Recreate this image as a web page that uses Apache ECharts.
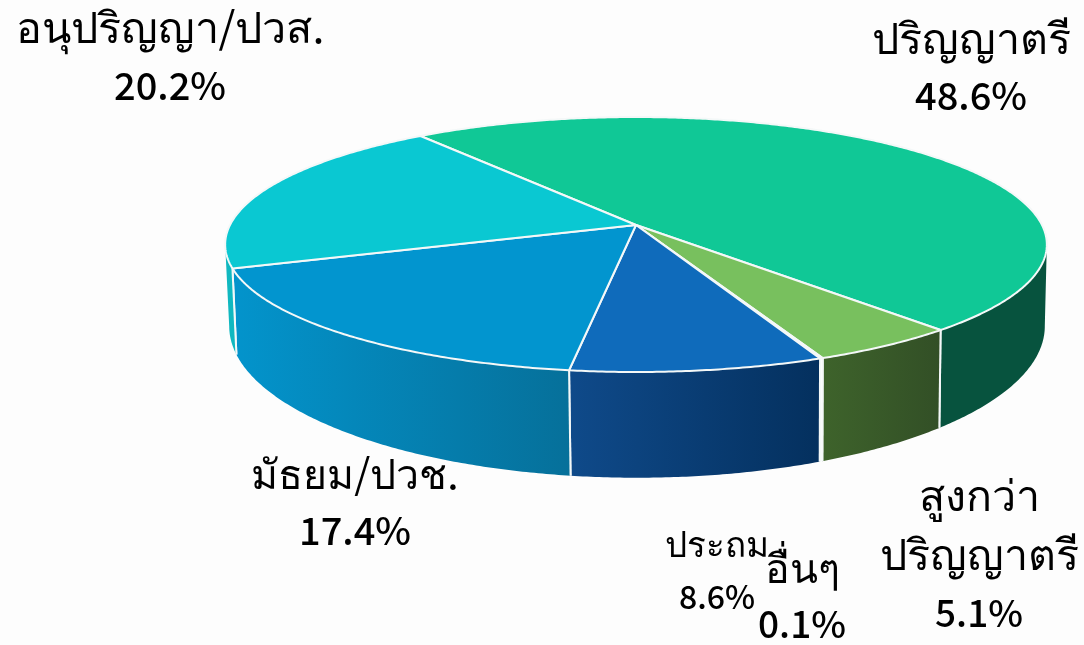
<!DOCTYPE html>
<html>
<head>
<meta charset="utf-8">
<script src="https://cdn.jsdelivr.net/npm/echarts@6/dist/echarts.min.js"></script>
<style>html,body{margin:0;padding:0;background:#fdfdfd}#c{width:1084px;height:645px}</style>
</head>
<body>
<div id="c"></div>
<script>
const categories = ['ปริญญาตรี', 'สูงกว่า\nปริญญาตรี', 'อื่นๆ', 'ประถม', 'มัธยม/ปวช.', 'อนุปริญญา/ปวส.'];
const values = [48.6, 5.1, 0.1, 8.6, 17.4, 20.2];
const topColors = ['#10c896', '#78c05e', '#ffffff', '#0f6bbb', '#0295cf', '#0ac8d2'];
const wallFrom = ['#07533e', '#3e632b', '#ffffff', '#0f4a8a', '#0394cc', '#10b8c0'];
const wallTo = ['#07533e', '#324f26', '#ffffff', '#04305e', '#06709a', '#10b8c0'];
const labelX = [971, 979, 802, 717, 355, 170];
const labelY = [67, 584, 595, 568, 502, 57];
const nameSize = [43, 43, 41, 35, 41, 43];
const pctSize = [38, 37, 37, 32, 38, 38];
const lineGap = [58, 59, 57, 53, 58, 59];

const startDeg = -36.6;
const K = 0.153;
const topDisc = { cx: 636, cy: 225, rx: 406, ry: 124.5 };
const baseDisc = { cx: 637, cy: 303, rx: 403, ry: 148 };
const font = '"Noto Sans CJK SC","Noto Sans",Inter,sans-serif';

function project(d, deg) {
  const t = deg * Math.PI / 180, u = Math.sin(t), v = -Math.cos(t), w = 1 - K * v;
  return [d.cx + d.rx * u / w, d.cy + d.ry * v / w];
}
function arc(d, a, b) {
  const pts = [], n = Math.max(2, Math.ceil(Math.abs(b - a) * 2));
  for (let i = 0; i <= n; i++) pts.push(project(d, a + (b - a) * i / n));
  return pts;
}
const total = values.reduce((s, x) => s + x, 0);
const edgeR = 98.8, edgeL = 261.2;

function renderItem(params, api) {
  const i = params.dataIndex;
  let before = 0;
  for (let j = 0; j < i; j++) before += values[j];
  const a = startDeg + before / total * 360;
  const b = a + api.value(0) / total * 360;
  const children = [];
  const va = Math.max(a, edgeR), vb = Math.min(b, edgeL);
  if (vb > va) {
    const upper = arc(topDisc, va, vb), lower = arc(baseDisc, va, vb);
    const xs = upper.concat(lower).map(p => p[0]);
    const x0 = Math.min.apply(null, xs), x1 = Math.max.apply(null, xs);
    children.push({
      type: 'polygon',
      shape: { points: upper.concat(lower.reverse()) },
      style: {
        fill: {
          type: 'linear', x: x0, y: 0, x2: x1, y2: 0, global: true,
          colorStops: [{ offset: 0, color: wallFrom[i] }, { offset: 1, color: wallTo[i] }]
        }
      }
    });
    [a, b].forEach(g => {
      if (g >= edgeR && g <= edgeL) {
        const p = project(topDisc, g), q = project(baseDisc, g);
        children.push({
          type: 'line',
          shape: { x1: p[0], y1: p[1], x2: q[0], y2: q[1] },
          style: { stroke: '#f4f8f8', lineWidth: 2 }
        });
      }
    });
  }
  children.push({
    type: 'polygon',
    shape: { points: [[topDisc.cx, topDisc.cy]].concat(arc(topDisc, a, b)) },
    style: { fill: topColors[i], stroke: '#f4f8f8', lineWidth: 2, lineJoin: 'round' }
  });
  return { type: 'group', children };
}

const labelElements = categories.map((c, i) => {
  const parts = c.split('\n').concat([values[i].toFixed(1) + '%']);
  return parts.map((t, k) => {
    const isPct = k === parts.length - 1;
    return {
      type: 'text',
      x: labelX[i],
      y: labelY[i] + (k - parts.length + 1) * lineGap[i] + 29,
      silent: true,
      z: 10,
      style: {
        text: t, fill: '#000',
        font: (isPct ? '500 ' + pctSize[i] : '400 ' + nameSize[i]) + 'px ' + font,
        textAlign: 'center', textVerticalAlign: 'middle'
      }
    };
  });
}).reduce((s, x) => s.concat(x), []);

const chart = echarts.init(document.getElementById('c'), null, { renderer: 'canvas' });
chart.setOption({
  animation: false,
  backgroundColor: '#fdfdfd',
  series: [{
    type: 'custom',
    coordinateSystem: 'none',
    renderItem,
    data: values.map((v, i) => ({ name: categories[i], value: [v] }))
  }],
  graphic: { elements: labelElements }
});
</script>
</body>
</html>
